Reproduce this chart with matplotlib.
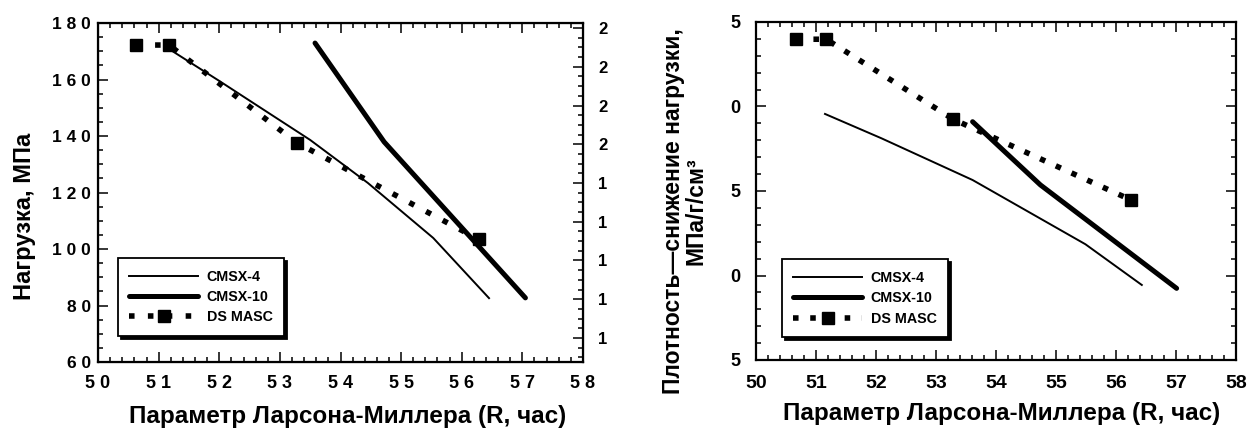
import matplotlib

matplotlib.use("Agg")
import matplotlib.pyplot as plt
from matplotlib.ticker import FixedLocator, FixedFormatter, MultipleLocator

plt.rcParams["font.family"] = ["Liberation Sans", "DejaVu Sans"]
plt.rcParams["font.weight"] = "bold"

# ---- left panel: stress vs Larson-Miller parameter ----
cmsx4_x_left = [51.12, 52.0, 53.5, 54.45, 55.53, 56.45]
cmsx4_y_left = [171.5, 159.5, 138.6, 123.4, 103.9, 82.6]
cmsx10_x_left = [53.58, 54.72, 57.05]
cmsx10_y_left = [172.9, 137.9, 82.7]
dsmasc_x_left = [50.63, 51.17, 53.28, 56.28]
dsmasc_y_left = [172.2, 172.2, 137.6, 103.4]

left_xticks = [50, 51, 52, 53, 54, 55, 56, 57, 58]
left_xlabels = ["5 0", "5 1", "5 2", "5 3", "5 4", "5 5", "5 6", "5 7", "5 8"]
left_yticks = [60, 80, 100, 120, 140, 160, 180]
left_ylabels = ["6 0", "8 0", "1 0 0", "1 2 0", "1 4 0", "1 6 0", "1 8 0"]
twin_yticks = [1.5, 1.6, 1.7, 1.8, 1.9, 2.0, 2.1, 2.2, 2.3]
twin_ylabels = ["1", "1", "1", "1", "1", "2", "2", "2", "2"]

# ---- right panel: density-corrected stress ----
cmsx4_x_right = [51.15, 52.09, 53.61, 55.49, 56.43]
cmsx4_y_right = [19.56, 18.12, 15.65, 11.85, 9.44]
cmsx10_x_right = [53.61, 54.74, 57.01]
cmsx10_y_right = [19.1, 15.36, 9.24]
dsmasc_x_right = [50.67, 51.17, 53.29, 56.25]
dsmasc_y_right = [23.98, 23.98, 19.24, 14.47]

right_xticks = [50, 51, 52, 53, 54, 55, 56, 57, 58]
right_xlabels = ["50", "51", "52", "53", "54", "55", "56", "57", "58"]
right_yticks = [5, 10, 15, 20, 25]
right_ylabels = ["5", "0", "5", "0", "5"]

xlabel = "Параметр Ларсона-Миллера (R, час)"


def style_ticks(ax, fs_x, fs_y):
    ax.tick_params(which="both", direction="in", top=True, right=True, width=1.1)
    ax.tick_params(which="major", length=7)
    ax.tick_params(which="minor", length=3.5)
    ax.tick_params(axis="x", labelsize=fs_x, pad=9.5)
    ax.tick_params(axis="y", labelsize=fs_y, pad=5)
    for s in ax.spines.values():
        s.set_linewidth(1.6)


def draw_series(ax, cx4, cy4, cx10, cy10, dx, dy, off):
    ax.plot(cx4, cy4, color="black", lw=1.4, label="CMSX-4")
    ax.plot(cx10, cy10, color="black", lw=3.6, label="CMSX-10", solid_capstyle="round")
    ax.plot(dx, dy, color="black", lw=4, ls=(0, (1, off)), dash_capstyle="butt",
            marker="s", ms=9, label="DS MASC")


def add_legend(ax, anchor):
    leg = ax.legend(loc="lower left", bbox_to_anchor=anchor, borderaxespad=0,
                    fancybox=False, shadow={"color": "black", "alpha": 1},
                    edgecolor="black", framealpha=1,
                    prop={"size": 10.3, "weight": "bold"}, handlelength=4.8,
                    handletextpad=0.6, borderpad=0.8, labelspacing=0.45)
    leg.get_frame().set_linewidth(1.3)


fig = plt.figure(figsize=(12.53, 4.28), dpi=100)

# left
ax1 = fig.add_axes([98 / 1253, 1 - 362 / 428, 485 / 1253, 339 / 428])
draw_series(ax1, cmsx4_x_left, cmsx4_y_left, cmsx10_x_left, cmsx10_y_left,
            dsmasc_x_left, dsmasc_y_left, 2.4)
ax1.set_xlim(50, 58)
ax1.set_ylim(60, 180)
ax1.xaxis.set_major_locator(FixedLocator(left_xticks))
ax1.xaxis.set_major_formatter(FixedFormatter(left_xlabels))
ax1.xaxis.set_minor_locator(MultipleLocator(0.2))
ax1.yaxis.set_major_locator(FixedLocator(left_yticks))
ax1.yaxis.set_major_formatter(FixedFormatter(left_ylabels))
ax1.yaxis.set_minor_locator(MultipleLocator(5))
style_ticks(ax1, 13, 12.5)
ax1.set_xlabel(xlabel, fontsize=17.5, fontweight="bold")
ax1.xaxis.set_label_coords(0.515, -0.128)
ax1.set_ylabel("Нагрузка, МПа", fontsize=17, fontweight="bold")
ax1.yaxis.set_label_coords(-0.128, 0.43)
add_legend(ax1, (0.041, 0.077))

tw = ax1.twinx()
tw.set_ylim(1.438, 2.313)
tw.yaxis.set_major_locator(FixedLocator(twin_yticks))
tw.yaxis.set_major_formatter(FixedFormatter(twin_ylabels))
tw.yaxis.set_minor_locator(MultipleLocator(0.025))
tw.tick_params(which="both", direction="in", width=1.1)
tw.tick_params(which="major", length=7, labelsize=12, pad=11)
tw.tick_params(which="minor", length=3.5)
ax1.tick_params(right=False, which="both")

# right
ax2 = fig.add_axes([756 / 1253, 1 - 360 / 428, 480 / 1253, 338 / 428])
draw_series(ax2, cmsx4_x_right, cmsx4_y_right, cmsx10_x_right, cmsx10_y_right,
            dsmasc_x_right, dsmasc_y_right, 2.1)
ax2.set_xlim(50, 58)
ax2.set_ylim(5, 25)
ax2.xaxis.set_major_locator(FixedLocator(right_xticks))
ax2.xaxis.set_major_formatter(FixedFormatter(right_xlabels))
ax2.xaxis.set_minor_locator(MultipleLocator(0.2))
ax2.yaxis.set_major_locator(FixedLocator(right_yticks))
ax2.yaxis.set_major_formatter(FixedFormatter(right_ylabels))
ax2.yaxis.set_minor_locator(MultipleLocator(1))
style_ticks(ax2, 14, 13)
ax2.tick_params(axis="y", pad=11)
ax2.tick_params(axis="x", pad=10.5)
ax2.set_xlabel(xlabel, fontsize=17.5, fontweight="bold")
ax2.xaxis.set_label_coords(0.5125, -0.125)
ax2.set_ylabel("Плотность—снижение нагрузки,\nМПа/г/см³", fontsize=16.5,
               fontweight="bold", linespacing=1.0)
ax2.yaxis.set_label_coords(-0.10, 0.44)
add_legend(ax2, (0.054, 0.068))

fig.savefig("out.png", dpi=100)
